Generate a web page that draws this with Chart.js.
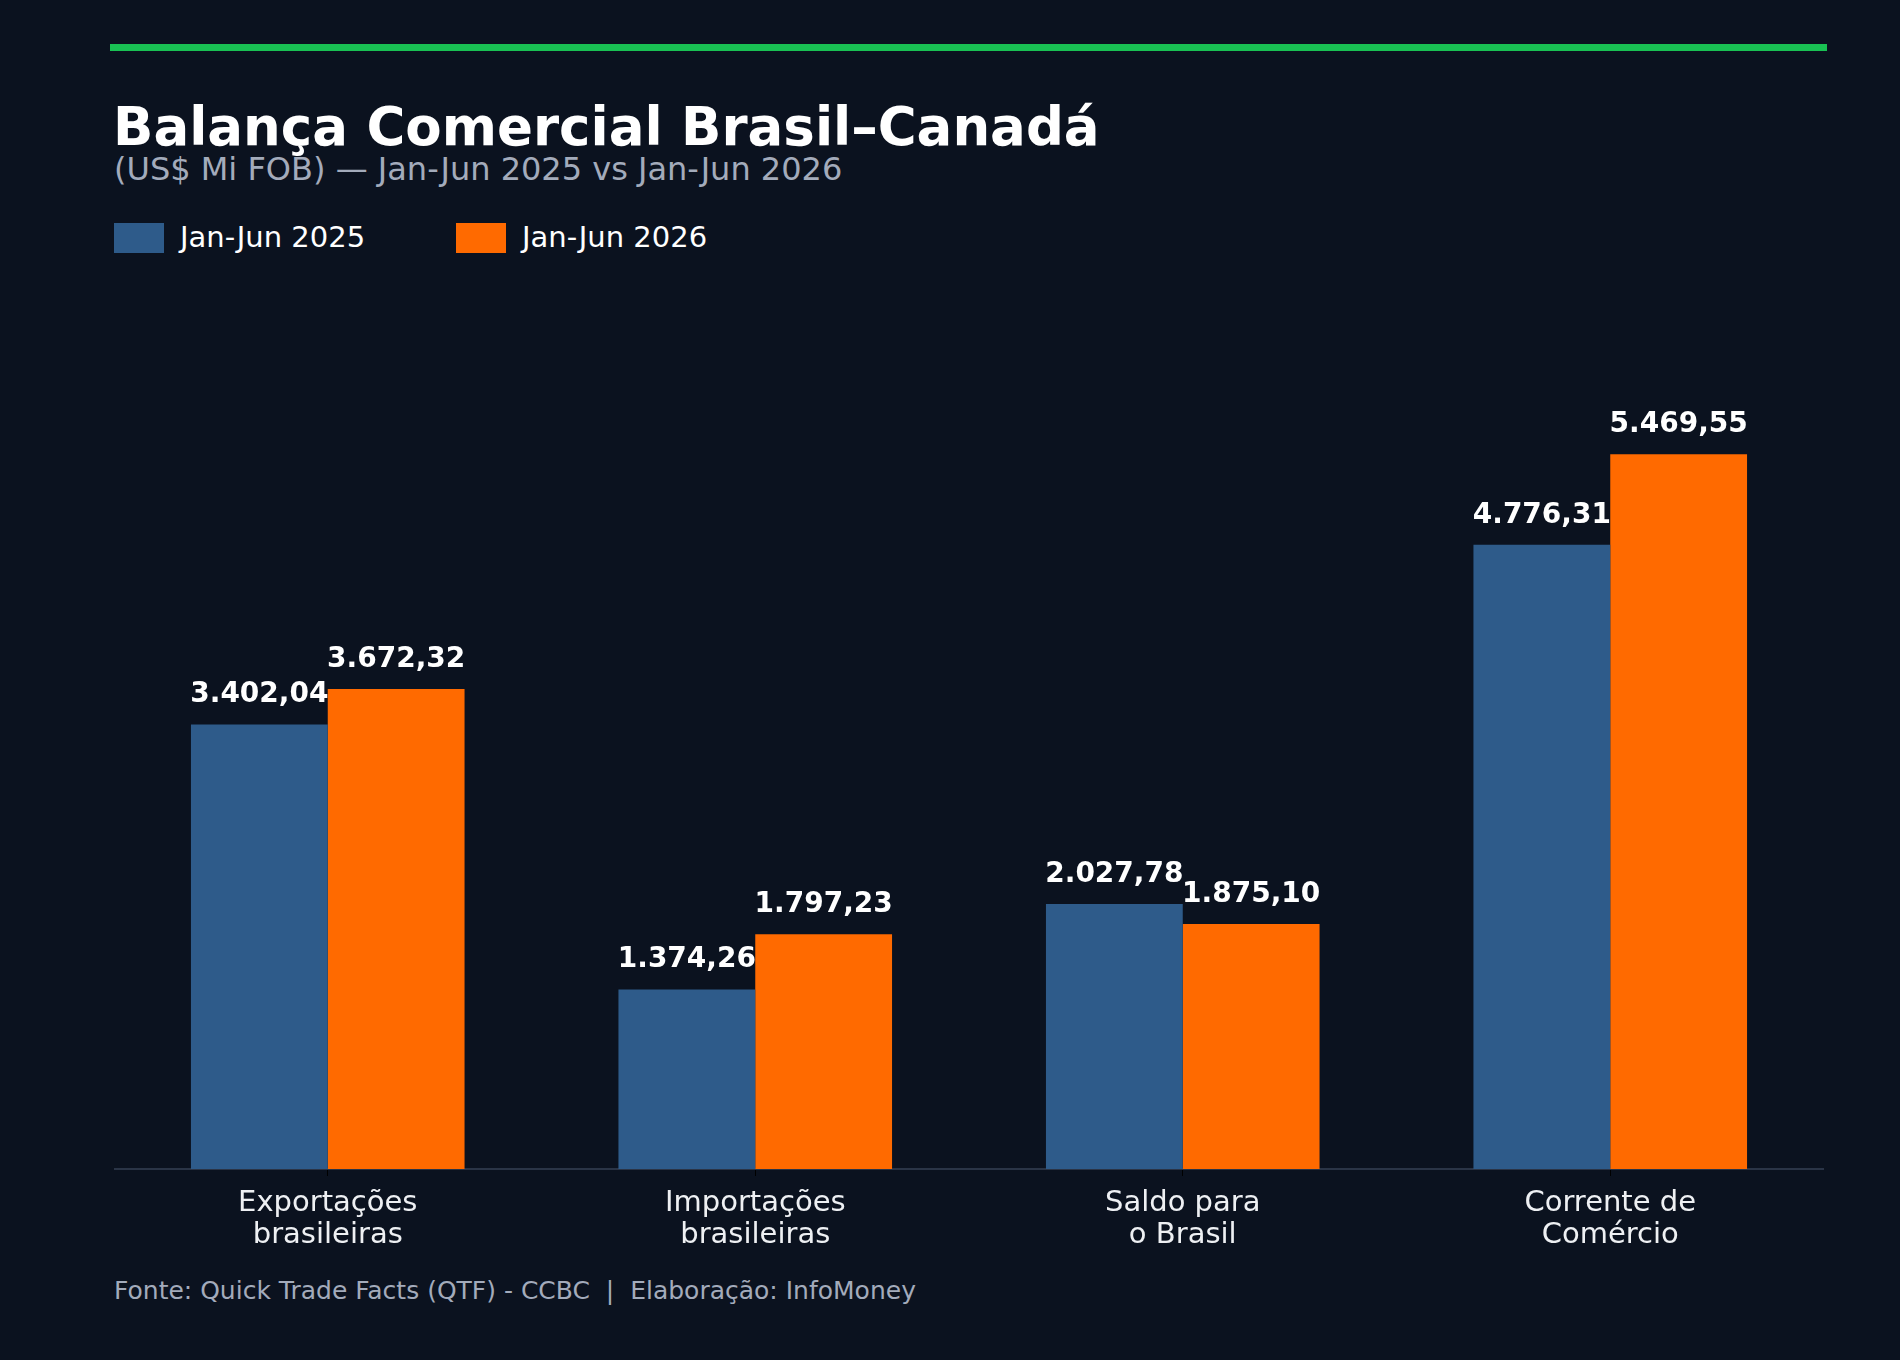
<!DOCTYPE html>
<html>
<head>
<meta charset="utf-8">
<script src="https://cdn.jsdelivr.net/npm/chart.js@4.4.1/dist/chart.umd.min.js"></script>
<style>
  html, body { margin: 0; padding: 0; background: #0b121f; }
  body { width: 1900px; height: 1360px; position: relative; overflow: hidden; font-family: "DejaVu Sans", sans-serif; }
  #topLine { position: absolute; left: 110px; top: 44px; width: 1717px; height: 7px; background: #19c153; }
  #title { position: absolute; left: 113px; top: 100px; font-size: 53px; line-height: 1; font-weight: bold; color: #ffffff; white-space: nowrap; }
  #subtitle { position: absolute; left: 114px; top: 153px; font-size: 32px; line-height: 1; color: #a3abbb; white-space: nowrap; }
  #legend { position: absolute; left: 114px; top: 223px; }
  .legendItem { position: absolute; top: 0; white-space: nowrap; }
  .legendBox { position: absolute; left: 0; top: 0; width: 50px; height: 30px; }
  .legendText { position: absolute; left: 66px; top: -1px; font-size: 29px; line-height: 1.1; color: #ffffff; }
  #chartWrap { position: absolute; left: 114px; top: 300px; width: 1710px; height: 960px; }
  #footer { position: absolute; left: 114px; top: 1278px; font-size: 25px; line-height: 1; color: #a3abbb; white-space: pre; }
</style>
</head>
<body>
<div id="topLine"></div>
<div id="title">Balança Comercial Brasil–Canadá</div>
<div id="subtitle">(US$ Mi FOB) — Jan-Jun 2025 vs Jan-Jun 2026</div>
<div id="legend"></div>
<div id="chartWrap"><canvas id="myChart" width="1710" height="960"></canvas></div>
<div id="footer">Fonte: Quick Trade Facts (QTF) - CCBC  |  Elaboração: InfoMoney</div>

<script>
let categories = [
    ['Exportações', 'brasileiras'],
    ['Importações', 'brasileiras'],
    ['Saldo para', 'o Brasil'],
    ['Corrente de', 'Comércio']
];
let seriesNames = ['Jan-Jun 2025', 'Jan-Jun 2026'];
let values2025 = [3402.04, 1374.26, 2027.78, 4776.31];
let values2026 = [3672.32, 1797.23, 1875.10, 5469.55];
let seriesColors = ['#2e5b8a', '#ff6a00'];

// formato brasileiro: 1.234,56
formatBR = (v) => {
    let parts = v.toFixed(2).split('.');
    let intPart = parts[0].replace(/\B(?=(\d{3})+(?!\d))/g, '.');
    return intPart + ',' + parts[1];
}

createLegend = () => {
    let legendDiv = document.getElementById('legend');
    let offsets = [0, 342];

    for (let i = 0; i < seriesNames.length; i++) {
        let item = document.createElement('div');
        item.className = 'legendItem';
        item.style.left = offsets[i] + 'px';

        let box = document.createElement('div');
        box.className = 'legendBox';
        box.style.background = seriesColors[i];

        let text = document.createElement('div');
        text.className = 'legendText';
        text.innerText = seriesNames[i];

        item.appendChild(box);
        item.appendChild(text);
        legendDiv.appendChild(item);
    }
}

createLegend();

let valueLabels = {
    id: 'valueLabels',
    afterDatasetsDraw(chart) {
        let ctx = chart.ctx;
        ctx.save();
        ctx.font = 'bold 28px "DejaVu Sans"';
        ctx.fillStyle = '#ffffff';
        ctx.textAlign = 'center';
        ctx.textBaseline = 'alphabetic';
        chart.data.datasets.forEach((ds, i) => {
            let meta = chart.getDatasetMeta(i);
            meta.data.forEach((bar, j) => {
                ctx.fillText(formatBR(ds.data[j]), bar.x, bar.y - 22);
            });
        });
        ctx.restore();
    }
};

let ctx = document.getElementById('myChart').getContext('2d');
let myChart = new Chart(ctx, {
    type: 'bar',
    data: {
        labels: categories,
        datasets: [{
            label: seriesNames[0],
            data: values2025,
            backgroundColor: seriesColors[0]
        }, {
            label: seriesNames[1],
            data: values2026,
            backgroundColor: seriesColors[1]
        }]
    },
    options: {
        responsive: false,
        animation: false,
        layout: { padding: 0 },
        categoryPercentage: 0.64,
        barPercentage: 1.0,
        plugins: {
            legend: { display: false },
            title: { display: false },
            tooltip: { enabled: false }
        },
        scales: {
            x: {
                afterFit: (scale) => { scale.height = 91; },
                grid: {
                    display: true,
                    drawOnChartArea: false,
                    drawTicks: true,
                    tickLength: 7,
                    color: '#000000',
                    offset: false
                },
                border: { display: true, color: '#2a3446', width: 2 },
                ticks: {
                    color: '#eef0f3',
                    padding: 12,
                    font: { family: 'DejaVu Sans', size: 29, lineHeight: 1.1 }
                }
            },
            y: {
                display: false,
                min: 0,
                max: 6650
            }
        }
    },
    plugins: [valueLabels]
});
</script>
</body>
</html>
